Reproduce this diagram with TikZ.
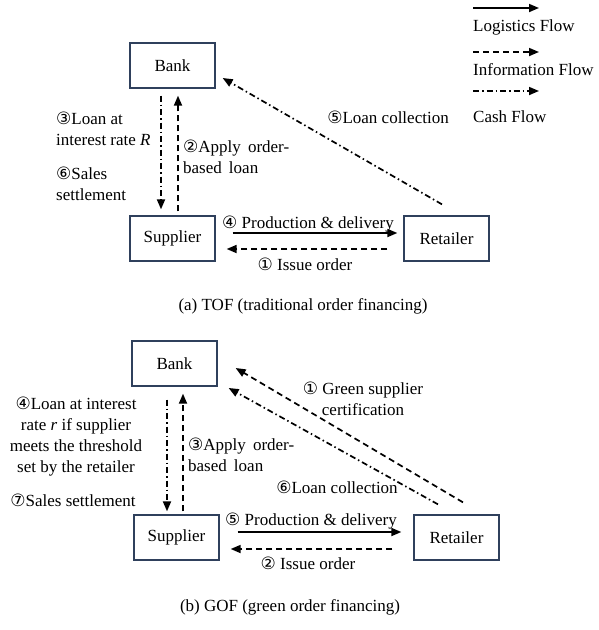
\documentclass[tikz,border=0pt]{standalone}
\usepackage{fontspec}
\setmainfont{Liberation Serif}
\newfontfamily\circfont{DejaVu Sans}
\usetikzlibrary{arrows.meta}
\definecolor{boxc}{RGB}{47,64,92}
\newcommand\cnum[1]{{\circfont\fontsize{17}{17}\selectfont #1}}
\begin{document}
\begin{tikzpicture}[x=1pt,y=-1pt,
  every node/.style={font=\fontsize{17}{21}\selectfont, inner sep=0pt},
  box/.style={draw=boxc, line width=1.3pt, minimum width=85pt, minimum height=45pt},
  flow/.style={line width=1.7pt, -{Triangle[length=10pt,width=8pt]}},
  info/.style={flow, dash pattern=on 6pt off 4pt},
  cash/.style={flow, dash pattern=on 6pt off 3pt on 1.5pt off 3pt},
  lbl/.style={anchor=west, align=left},
  ctr/.style={align=center},
]
\useasboundingbox (0,0) rectangle (599,630);

% ---------- legend ----------
\coordinate (l1a) at (473,8);  \coordinate (l1b) at (539,8);
\coordinate (l2a) at (473,52); \coordinate (l2b) at (539,52);
\coordinate (l3a) at (473,91); \coordinate (l3b) at (539,91);
\draw[flow] (l1a) -- (l1b);
\draw[info] (l2a) -- (l2b);
\draw[cash] (l3a) -- (l3b);
\node[lbl] (lg1) at (473,27) {Logistics Flow};
\node[lbl] (lg2) at (473,70) {Information Flow};
\node[lbl] (lg3) at (473,117) {Cash Flow};

% ---------- panel (a) ----------
\node[box] (bankA) at (172.5,65.5) {Bank};
\node[box] (supA) at (172.5,238.5) {Supplier};
\node[box] (retA) at (446.5,238.5) {Retailer};

\draw[cash] ([shift={(-11.5,7)}]bankA.south) -- ([shift={(-11.5,-6)}]supA.north);
\draw[info] ([shift={(5.5,-4)}]supA.north) -- ([shift={(5.5,7)}]bankA.south);
\draw[cash] ([shift={(-4.5,-11)}]retA.north) -- ([shift={(7,12.5)}]bankA.east);
\draw[flow] ([shift={(17,-5.5)}]supA.east) -- ([shift={(-6,-5.5)}]retA.west);
\draw[info] ([shift={(-16,10.5)}]retA.west) -- ([shift={(11,10.5)}]supA.east);

\node[lbl] (a3) at (56,128.5) {\cnum{③}Loan at\\interest rate \textit{R}};
\node[lbl] (a6) at (56,183.5) {\cnum{⑥}Sales\\settlement};
\node[lbl] (a2) at (183,156.5) {\cnum{②}Apply \,order-\\based \,loan};
\node (a5) at (388,117) {\cnum{⑤}Loan collection};
\node (a4) at (308,224) {\cnum{④} Production \& delivery};
\node (a1) at (305,264) {\cnum{①} Issue order};
\node (capA) at (303,306) {(a) TOF (traditional order financing)};

% ---------- panel (b) ----------
\node[box] (bankB) at (174.5,363.5) {Bank};
\node[box] (supB) at (176.5,537.5) {Supplier};
\node[box] (retB) at (456.5,537.5) {Retailer};

\draw[cash] ([shift={(-7.5,13)}]bankB.south) -- ([shift={(-9.5,-3)}]supB.north);
\draw[info] ([shift={(6.5,-3)}]supB.north) -- ([shift={(8.5,7)}]bankB.south);
\draw[info] ([shift={(6.5,-12)}]retB.north) -- ([shift={(18,4.5)}]bankB.east);
\draw[cash] ([shift={(-18.5,-10)}]retB.north) -- ([shift={(11,24.5)}]bankB.east);
\draw[flow] ([shift={(18,-5.5)}]supB.east) -- ([shift={(-12,-5.5)}]retB.west);
\draw[info] ([shift={(-21,11.5)}]retB.west) -- ([shift={(11,11.5)}]supB.east);

\node[ctr] (b4) at (76,436.5) {\cnum{④}Loan at interest\\rate \textit{r} if supplier\\meets the threshold\\set by the retailer};
\node (b7) at (73,500) {\cnum{⑦}Sales settlement};
\node[lbl] (b3) at (188,455) {\cnum{③}Apply \,order-\\based \,loan};
\node[ctr] (b1) at (363,398.5) {\cnum{①} Green supplier\\certification};
\node (b6) at (337,487) {\cnum{⑥}Loan collection};
\node (b5) at (311,521) {\cnum{⑤} Production \& delivery};
\node (b2) at (308,563) {\cnum{②} Issue order};
\node (capB) at (290,607) {(b) GOF (green order financing)};
\end{tikzpicture}
\end{document}
